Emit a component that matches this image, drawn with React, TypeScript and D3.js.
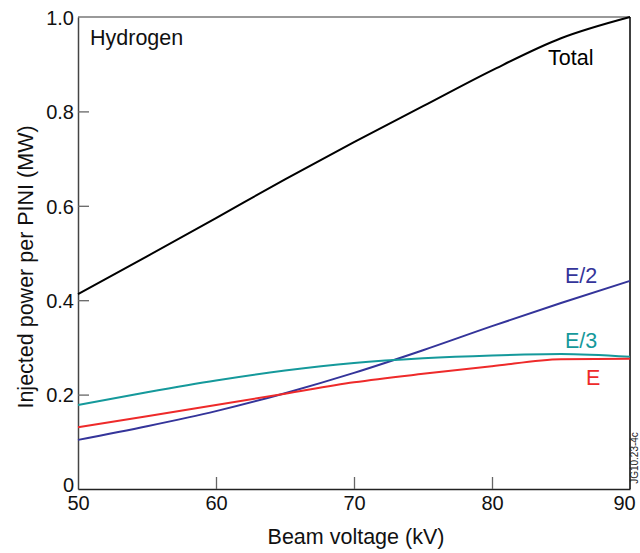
import React, { useEffect, useRef } from 'react'
import * as d3 from 'd3'

// beam voltage (kV)
const voltages = [50, 55, 60, 65, 70, 75, 80, 85, 90]
// injected power per PINI (MW)
const total = [0.413, 0.493, 0.574, 0.656, 0.735, 0.811, 0.887, 0.955, 1.0]
const e2 = [0.104, 0.133, 0.165, 0.203, 0.246, 0.294, 0.345, 0.394, 0.441]
const e3 = [0.178, 0.205, 0.230, 0.251, 0.267, 0.277, 0.283, 0.286, 0.280]
const e1 = [0.131, 0.154, 0.178, 0.202, 0.226, 0.244, 0.260, 0.275, 0.276]

const xTicks = [50, 60, 70, 80, 90]
const yTicks = [0, 0.2, 0.4, 0.6, 0.8, 1.0]

const series = [
  { name: 'Total', values: total, color: '#000000', lx: 548, ly: 65 },
  { name: 'E/2', values: e2, color: '#34349a', lx: 565, ly: 283 },
  { name: 'E/3', values: e3, color: '#15999b', lx: 565, ly: 348 },
  { name: 'E', values: e1, color: '#ee2a2a', lx: 586, ly: 385 },
]

export default function App() {
  const svgRef = useRef<SVGSVGElement>(null)
  const W = 640
  const H = 553
  const m = { left: 78, right: 630, top: 17, bottom: 489 }
  const font = 'Arial, "Liberation Sans", Helvetica, sans-serif'
  const labelSize = 21.5

  useEffect(() => {
    const svg = d3.select(svgRef.current)
    svg.selectAll('*').remove()

    const x = d3.scaleLinear().domain([50, 90]).range([m.left, m.right])
    const y = d3.scaleLinear().domain([0, 1]).range([m.bottom, m.top])

    // frame
    svg.append('line').attr('x1', m.left).attr('x2', m.right).attr('y1', m.top).attr('y2', m.top)
      .attr('stroke', '#777').attr('stroke-width', 1.5)
    svg.append('line').attr('x1', m.right).attr('x2', m.right).attr('y1', m.top).attr('y2', m.bottom)
      .attr('stroke', '#000').attr('stroke-width', 1.5)

    // y axis, ticks pointing inward
    const yAxis = svg.append('g').attr('transform', `translate(${m.left},0)`)
      .call(d3.axisLeft(y).tickValues(yTicks).tickSizeInner(-11).tickSizeOuter(0).tickPadding(4)
        .tickFormat(d => (d === 0 ? '0' : d3.format('.1f')(d as number))))
    yAxis.select('.domain').attr('stroke', '#444').attr('stroke-width', 1.5)
    yAxis.selectAll('.tick line').attr('stroke', '#666').attr('stroke-width', 1.3)
      .filter(d => d === 0 || d === 1).remove()
    yAxis.selectAll('.tick text').attr('font-size', 20).attr('font-family', font).attr('fill', '#111')
      .attr('dy', '0.36em')
    yAxis.selectAll('.tick text').filter(d => d === 0).attr('dy', '0.1em')

    // x axis, ticks pointing up
    const xAxis = svg.append('g').attr('transform', `translate(0,${m.bottom})`)
      .call(d3.axisBottom(x).tickValues(xTicks).tickSizeInner(-12).tickSizeOuter(0).tickPadding(8)
        .tickFormat(d3.format('d')))
    xAxis.select('.domain').attr('stroke', '#222').attr('stroke-width', 1.5)
    xAxis.selectAll('.tick line').attr('stroke', '#666').attr('stroke-width', 1.3)
      .filter(d => d === 50 || d === 90).remove()
    xAxis.selectAll('.tick text').attr('font-size', 20).attr('font-family', font).attr('fill', '#111')
      .attr('y', 7).attr('dy', '0.71em')
      .filter(d => d === 90).attr('dx', -6)

    // lines
    const line = d3.line<number>()
      .x((d, i) => x(voltages[i]))
      .y(d => y(d))
      .curve(d3.curveMonotoneX)

    series.forEach(s => {
      svg.append('path').datum(s.values).attr('d', line)
        .attr('fill', 'none').attr('stroke', s.color).attr('stroke-width', 2)
      svg.append('text').attr('x', s.lx).attr('y', s.ly).text(s.name)
        .attr('fill', s.color).attr('font-size', labelSize).attr('font-family', font)
    })

    svg.append('text').attr('x', 90).attr('y', 45).text('Hydrogen')
      .attr('font-size', labelSize).attr('font-family', font).attr('fill', '#111')

    svg.append('text').attr('x', 356).attr('y', 544).attr('text-anchor', 'middle')
      .text('Beam voltage (kV)').attr('font-size', labelSize).attr('font-family', font).attr('fill', '#111')

    svg.append('text').attr('transform', 'translate(33,267) rotate(-90)').attr('text-anchor', 'middle')
      .text('Injected power per PINI (MW)').attr('font-size', labelSize).attr('font-family', font).attr('fill', '#111')

    svg.append('text').attr('transform', 'translate(638,458) rotate(-90)').attr('text-anchor', 'middle')
      .text('JG10.23-4c').attr('font-size', 10).attr('font-family', font).attr('fill', '#222')
  }, [])

  return (
    <svg ref={svgRef} width={W} height={H}
      style={{ position: 'absolute', left: 0, top: 0, background: '#fff' }} />
  )
}
